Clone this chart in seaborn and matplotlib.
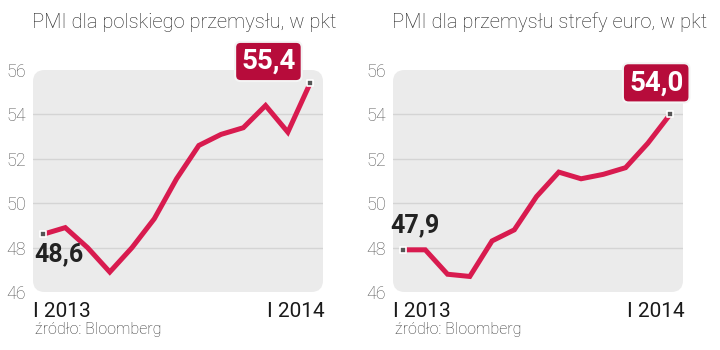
import numpy as np
import pandas as pd
import matplotlib
matplotlib.use("Agg")
import matplotlib.pyplot as plt
import seaborn as sns
from matplotlib.patches import FancyBboxPatch

# dane: PMI, styczeń 2013 - styczeń 2014
miesiace = list(range(13))
pmi_polska = [48.6, 48.9, 48.0, 46.9, 48.0, 49.3, 51.1, 52.6, 53.1, 53.4, 54.4, 53.2, 55.4]
pmi_euro = [47.9, 47.9, 46.8, 46.7, 48.3, 48.8, 50.3, 51.4, 51.1, 51.3, 51.6, 52.7, 54.0]
tytuly = ["PMI dla polskiego przemysłu, w pkt", "PMI dla przemysłu strefy euro, w pkt"]
etykiety_x = ["I 2013", "I 2014"]
yticks = [46, 48, 50, 52, 54, 56]
zrodlo = "źródło: Bloomberg"

KOLOR_LINII = "#d81b4f"
KOLOR_RAMKI = "#b70c3b"

sns.set_theme(style="white")
plt.rcParams["font.family"] = ["Roboto", "DejaVu Sans"]

fig = plt.figure(figsize=(7.2, 3.5), dpi=100)


def panel(x0, wartosci, tytul, pierwsza_pod):
    ax = fig.add_axes([x0 / 720, 58 / 350, 290 / 720, 222 / 350])
    ax.set_facecolor("none")
    for s in ax.spines.values():
        s.set_visible(False)

    # zaokraglone tlo
    tlo = FancyBboxPatch((0, 0), 1, 1, boxstyle="round,pad=0,rounding_size=0.04",
                         transform=ax.transAxes, facecolor="#ebebeb",
                         edgecolor="none", zorder=0, clip_on=False,
                         mutation_aspect=290 / 222)
    ax.add_patch(tlo)
    for y in [48, 50, 52, 54]:
        ax.axhline(y, color="#d4d4d4", lw=1, zorder=1)

    df = pd.DataFrame({"m": miesiace, "v": wartosci})
    sns.lineplot(data=df, x="m", y="v", ax=ax, color=KOLOR_LINII, lw=3.6,
                 zorder=3, solid_joinstyle="miter")
    ax.scatter([df.m.iloc[0], df.m.iloc[-1]], [df.v.iloc[0], df.v.iloc[-1]],
               marker="s", s=22, color="#555555", edgecolor="white",
               linewidth=1.2, zorder=4)

    ax.set_xlim(-0.45, 12.58)
    ax.set_ylim(46, 56)
    ax.set_xticks([])
    ax.set_yticks(yticks)
    ax.set_yticklabels([str(t) for t in yticks], fontsize=13,
                       color="#555555", fontweight="light")
    ax.tick_params(axis="y", length=0, pad=5)
    ax.set_xlabel("")
    ax.set_ylabel("")

    # tytul
    fig.text((x0 - 1) / 720, 1 - 28 / 350, tytul, fontsize=14.5,
             fontweight="light", color="#222222", ha="left", va="baseline")
    # etykiety osi x
    fig.text(x0 / 720, 1 - 317 / 350, etykiety_x[0], fontsize=15,
             fontweight="normal", color="#1a1a1a", ha="left", va="baseline")
    fig.text((x0 + 292) / 720, 1 - 317 / 350, etykiety_x[1], fontsize=15,
             fontweight="normal", color="#1a1a1a", ha="right", va="baseline")
    fig.text((x0 + 2) / 720, 1 - 334 / 350, zrodlo, fontsize=11.5,
             fontweight="light", color="#333333", ha="left", va="baseline")

    # wartosc poczatkowa
    txt0 = f"{wartosci[0]:.1f}".replace(".", ",")
    if pierwsza_pod:
        ax.annotate(txt0, (0, wartosci[0]), xytext=(-6, -6),
                    textcoords="offset points", ha="left", va="top",
                    fontsize=18, fontweight="bold", color="#222222", zorder=5)
    else:
        ax.annotate(txt0, (0, wartosci[0]), xytext=(-9, 9),
                    textcoords="offset points", ha="left", va="bottom",
                    fontsize=18, fontweight="bold", color="#222222", zorder=5)
    return ax


ax1 = panel(33, pmi_polska, tytuly[0], True)
ax2 = panel(393, pmi_euro, tytuly[1], False)

# wartosci koncowe w ramkach
for ax, wart, dx, dy in [(ax1, pmi_polska[-1], -30, 6), (ax2, pmi_euro[-1], -10, 13)]:
    txt = f"{wart:.1f}".replace(".", ",")
    ax.annotate(txt, (12, wart), xytext=(dx, dy), textcoords="offset points",
                ha="center", va="bottom", fontsize=20, fontweight="bold",
                color="white", zorder=6, annotation_clip=False,
                bbox=dict(boxstyle="round,pad=0.22,rounding_size=0.2",
                          facecolor=KOLOR_RAMKI, edgecolor="#f4f4f4", lw=1.5))

fig.savefig("out.png", dpi=100, facecolor="white")
